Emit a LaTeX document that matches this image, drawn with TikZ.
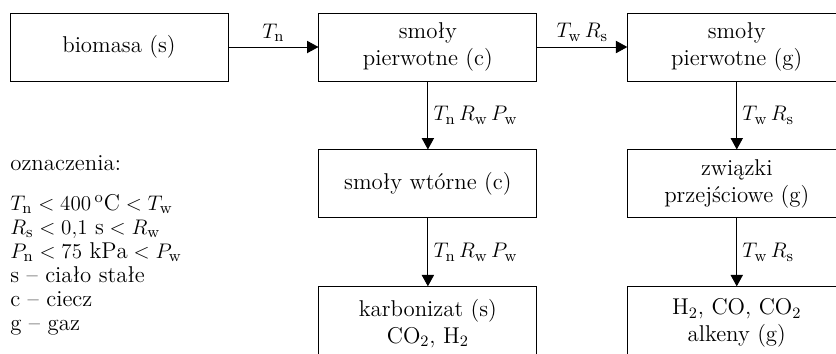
\documentclass[tikz,border=0pt]{standalone}
\usepackage{fontspec}
\usetikzlibrary{positioning,arrows.meta}
\newcommand{\legendafont}{\fontsize{13}{13.65}\selectfont\lineskiplimit=-8pt\relax}
\tikzset{
  blok/.style={draw, line width=0.5pt, minimum width=4.36cm, minimum height=1.36cm, align=center, inner sep=2pt, font=\fontsize{13}{15.4}\selectfont},
  strz/.style={-{Triangle[length=6.5pt,width=7pt]}, line width=0.5pt},
  opis/.style={font=\fontsize{13}{15.4}\selectfont, inner sep=3pt}
}
\begin{document}
\begin{tikzpicture}[node distance=1.36cm and 1.8cm]
  \useasboundingbox (0,0) rectangle (16.72,-7.06);
  % rzad gorny
  \node[blok] (biomasa) at (2.38,-0.94) {biomasa (s)};
  \node[blok, right=of biomasa] (pierwc) {smoły\\pierwotne (c)};
  \node[blok, right=of pierwc] (pierwg) {smoły\\pierwotne (g)};
  % rzad srodkowy i dolny
  \node[blok, below=of pierwc] (wtorne) {smoły wtórne (c)};
  \node[blok, below=of pierwg] (przejsc) {związki\\przejściowe (g)};
  \node[blok, below=of wtorne, minimum height=1.46cm] (karbon) {karbonizat (s)\\CO$_2$, H$_2$};
  \node[blok, below=of przejsc, minimum height=1.46cm] (gazy) {H$_2$, CO, CO$_2$\\alkeny (g)};
  % strzalki
  \draw[strz] (biomasa) -- node[above, opis] (l1) {$T_{\mathrm{n}}$} (pierwc);
  \draw[strz] (pierwc) -- node[above, opis] (l2) {$T_{\mathrm{w}}\,R_{\mathrm{s}}$} (pierwg);
  \draw[strz] (pierwc) -- node[right, opis] (l3) {$T_{\mathrm{n}}\,R_{\mathrm{w}}\,P_{\mathrm{w}}$} (wtorne);
  \draw[strz] (wtorne) -- node[right, opis] (l4) {$T_{\mathrm{n}}\,R_{\mathrm{w}}\,P_{\mathrm{w}}$} (karbon);
  \draw[strz] (pierwg) -- node[right, opis] (l5) {$T_{\mathrm{w}}\,R_{\mathrm{s}}$} (przejsc);
  \draw[strz] (przejsc) -- node[right, opis] (l6) {$T_{\mathrm{w}}\,R_{\mathrm{s}}$} (gazy);
  % legenda
  \node[opis, anchor=north west, align=left, inner sep=0pt, font=\legendafont] (legenda) at (0.2,-3.1) {oznaczenia:\\[9pt]
    $T_{\mathrm{n}} < 400\,^{\mathrm{o}}\mathrm{C} < T_{\mathrm{w}}$\\
    $R_{\mathrm{s}} < 0{,}1\ \mathrm{s} < R_{\mathrm{w}}$\\
    $P_{\mathrm{n}} < 75\ \mathrm{kPa} < P_{\mathrm{w}}$\\
    s -- ciało stałe\\
    c -- ciecz\\
    g -- gaz};
\end{tikzpicture}
\end{document}
